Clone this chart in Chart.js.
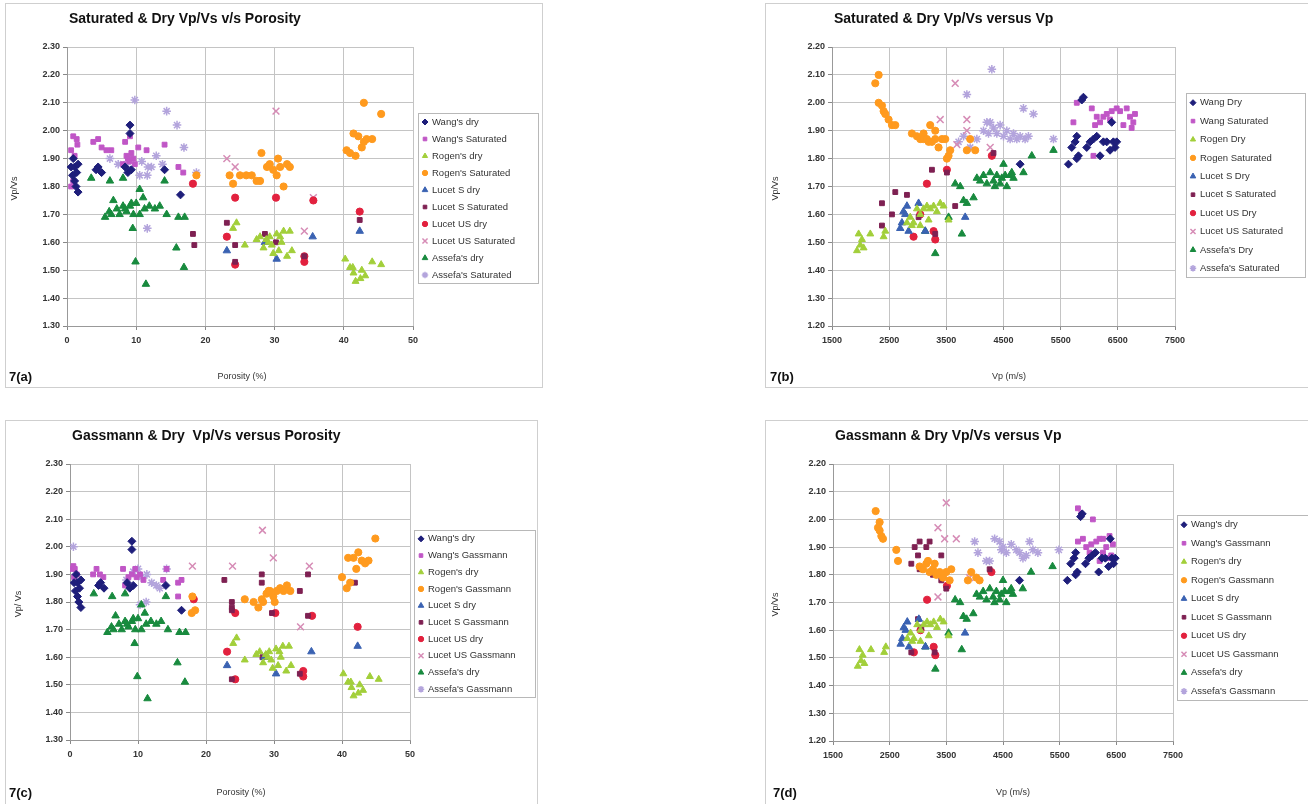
<!DOCTYPE html>
<html>
<head>
<meta charset="utf-8">
<script src="https://cdn.jsdelivr.net/npm/chart.js@4.4.1/dist/chart.umd.min.js"></script>
<style>
  body { margin: 0; background: #fff; width: 1308px; height: 804px; position: relative; overflow: hidden; }
  canvas { position: absolute; display: block; }
</style>
</head>
<body>
<canvas id="ca" width="538" height="385" style="left:5px;top:3px"></canvas>
<canvas id="cb" width="543" height="385" style="left:765px;top:3px"></canvas>
<canvas id="cc" width="533" height="384" style="left:5px;top:420px"></canvas>
<canvas id="cd" width="543" height="384" style="left:765px;top:420px"></canvas>
<script>
// ---- series names ----
const labelsA = ["Wang's dry", "Wang's Saturated", "Rogen's dry", "Rogen's Saturated", "Lucet S dry",
  "Lucet S Saturated", "Lucet US dry", "Lucet US Saturated", "Assefa's dry", "Assefa's Saturated"];
const labelsB = ["Wang Dry", "Wang Saturated", "Rogen Dry", "Rogen Saturated", "Lucet S Dry",
  "Lucet S Saturated", "Lucet US Dry", "Lucet US Saturated", "Assefa's Dry", "Assefa's Saturated"];
const labelsC = ["Wang's dry", "Wang's Gassmann", "Rogen's dry", "Rogen's Gassmann", "Lucet S dry",
  "Lucet S Gassmann", "Lucet US dry", "Lucet US Gassmann", "Assefa's dry", "Assefa's Gassmann"];

// ---- porosity (%) vs Vp/Vs : dry ----
const poroWangDry = [[1.1,1.87],[0.9,1.90],[1.6,1.88],[1.4,1.85],[1.3,1.80],[1.6,1.78],[1.1,1.82],[0.6,1.87],
  [0.8,1.84],[4.5,1.87],[5.0,1.85],[4.2,1.86],[8.4,1.87],[8.8,1.85],[9.3,1.86],[9.1,2.02],[9.1,1.99],[14.1,1.86],[16.4,1.77]];
const poroRogenDry = [[24.0,1.65],[24.5,1.67],[25.7,1.59],[27.4,1.61],[27.9,1.62],[28.4,1.58],[29.1,1.60],[29.3,1.62],
  [29.8,1.56],[30.3,1.63],[30.8,1.62],[31.0,1.60],[31.3,1.64],[31.8,1.55],[32.2,1.64],[32.5,1.57],[29.6,1.59],[30.6,1.57],
  [28.8,1.61],[40.2,1.54],[40.9,1.51],[41.4,1.49],[41.7,1.46],[42.4,1.47],[42.6,1.50],[43.1,1.48],[44.1,1.53],[45.4,1.52],[41.3,1.51]];
const poroLucetSDry = [[23.1,1.57],[28.6,1.60],[30.3,1.54],[35.5,1.62],[42.3,1.64]];
const poroLucetUSDry = [[18.2,1.81],[23.1,1.62],[24.3,1.76],[24.3,1.52],[30.2,1.76],[34.3,1.55],[34.3,1.53],[35.6,1.75],[42.3,1.71]];
const poroAssefaDry = [[5.5,1.69],[6.1,1.71],[6.7,1.75],[7.6,1.70],[8.1,1.73],[8.6,1.71],[9.1,1.73],[9.6,1.70],[10.0,1.74],
  [10.5,1.79],[11.0,1.76],[11.2,1.72],[11.9,1.73],[12.7,1.72],[13.4,1.73],[14.4,1.70],[16.1,1.69],[17.0,1.69],[10.5,1.70],
  [7.2,1.72],[8.4,1.72],[9.3,1.74],[6.4,1.70],[9.5,1.65],[9.9,1.53],[11.4,1.45],[15.8,1.58],[16.9,1.51],
  [3.5,1.83],[6.2,1.82],[8.1,1.83],[14.1,1.82]];

// ---- porosity vs Vp/Vs : saturated ----
const poroWangSat = [[0.9,1.98],[1.4,1.97],[0.6,1.93],[1.1,1.91],[0.6,1.80],[0.9,1.82],[1.5,1.95],[3.8,1.96],[4.5,1.97],
  [5.0,1.94],[5.7,1.93],[6.4,1.93],[8.4,1.96],[9.1,1.98],[8.6,1.91],[8.8,1.90],[9.3,1.92],[9.6,1.90],[9.8,1.88],[10.3,1.94],
  [8.1,1.88],[11.5,1.93],[9.0,1.89],[14.1,1.95],[16.1,1.87],[16.8,1.85]];
const poroRogenSat = [[18.7,1.84],[23.5,1.84],[24.0,1.81],[25.0,1.84],[25.9,1.84],[26.7,1.84],[27.4,1.82],[27.9,1.82],
  [28.1,1.92],[28.9,1.87],[29.3,1.88],[29.8,1.86],[30.3,1.84],[30.5,1.90],[30.8,1.87],[31.3,1.80],[31.8,1.88],[32.2,1.87],
  [40.4,1.93],[40.9,1.92],[41.4,1.99],[41.7,1.91],[42.1,1.98],[42.6,1.94],[42.9,1.96],[43.3,1.97],[44.1,1.97],[42.9,2.10],[45.4,2.06]];
const poroLucetSSat = [[18.2,1.63],[18.4,1.59],[23.1,1.67],[24.3,1.59],[24.3,1.53],[28.6,1.63],[30.2,1.60],[34.3,1.55],[42.3,1.68]];
const poroLucetUSSat = [[23.1,1.90],[24.3,1.87],[30.2,2.07],[34.3,1.64],[35.6,1.76]];
const poroAssefaSat = [[6.2,1.90],[7.4,1.88],[8.6,1.88],[9.2,1.90],[9.8,2.11],[10.5,1.84],[10.8,1.89],[11.6,1.84],[11.7,1.87],
  [12.2,1.87],[12.9,1.91],[13.8,1.88],[14.4,2.07],[15.9,2.02],[16.9,1.94],[18.7,1.85],[11.6,1.65]];

// ---- porosity vs Vp/Vs : Gassmann ----
const poroWangGas = [[0.2,1.92],[0.5,1.93],[0.7,1.92],[1.0,1.90],[0.6,1.89],[3.4,1.90],[3.9,1.92],[4.4,1.90],[4.9,1.89],
  [7.8,1.92],[8.1,1.86],[8.6,1.89],[9.1,1.90],[9.6,1.92],[9.8,1.89],[10.3,1.90],[10.8,1.88],[13.7,1.88],[14.2,1.92],
  [15.9,1.87],[16.4,1.88],[15.9,1.82]];
const poroRogenGas = [[17.9,1.76],[18.0,1.82],[18.4,1.77],[25.7,1.81],[27.0,1.80],[27.7,1.78],[28.2,1.81],[28.4,1.80],
  [28.9,1.83],[29.2,1.84],[29.4,1.84],[29.9,1.82],[30.1,1.80],[30.4,1.84],[30.9,1.85],[31.4,1.84],[31.9,1.86],[32.4,1.84],
  [40.0,1.89],[40.7,1.85],[41.2,1.87],[40.9,1.96],[41.7,1.96],[42.1,1.92],[42.4,1.98],[42.9,1.95],[43.4,1.94],[43.9,1.95],[44.9,2.03]];
const poroLucetSGas = [[22.7,1.88],[23.8,1.80],[23.8,1.78],[23.8,1.77],[23.8,1.52],[28.2,1.90],[28.2,1.87],[28.3,1.60],
  [29.7,1.76],[33.8,1.84],[33.8,1.54],[35.0,1.90],[35.0,1.75],[41.9,1.87]];
const poroLucetUSGas = [[18.0,1.93],[23.9,1.93],[28.3,2.06],[29.9,1.96],[33.9,1.71],[35.2,1.93]];
const poroAssefaGas = [[0.5,2.00],[8.3,1.88],[9.3,1.91],[10.0,1.92],[10.3,1.79],[10.5,1.89],[11.2,1.80],[11.3,1.90],
  [12.0,1.87],[12.7,1.86],[13.2,1.85],[14.2,1.92]];

// ---- Vp (m/s) vs Vp/Vs : dry ----
const vpWangDry = [[5636,1.78],[5694,1.84],[5753,1.86],[5782,1.88],[5811,1.81],[5782,1.80],[5869,2.01],[5898,2.02],
  [5956,1.84],[6015,1.86],[6073,1.87],[6131,1.88],[6189,1.81],[6247,1.86],[6306,1.86],[6393,1.93],[6422,1.86],
  [6451,1.84],[6480,1.86],[6364,1.83],[4791,1.78]];
const vpRogenDry = [[1937,1.47],[1995,1.49],[2024,1.51],[2053,1.48],[1966,1.53],[2170,1.53],[2403,1.52],[2432,1.54],
  [2811,1.57],[2869,1.59],[2927,1.57],[2986,1.62],[3044,1.60],[3102,1.62],[3160,1.63],[3218,1.62],[3277,1.63],
  [3335,1.61],[3393,1.64],[3452,1.63],[3539,1.58],[3044,1.56],[2898,1.56],[3190,1.58]];
const vpLucetSDry = [[2694,1.55],[2723,1.57],[2750,1.61],[2782,1.60],[2811,1.63],[2840,1.54],[3015,1.64],[3131,1.54],[3830,1.59]];
const vpLucetUSDry = [[2927,1.52],[3044,1.60],[3160,1.71],[3277,1.54],[3306,1.51],[3510,1.76],[4296,1.81]];
const vpAssefaDry = [[3131,1.54],[3306,1.46],[3539,1.59],[3655,1.71],[3743,1.70],[3772,1.53],[3801,1.65],[3859,1.64],
  [3976,1.66],[4034,1.73],[4092,1.72],[4150,1.74],[4209,1.71],[4267,1.75],[4325,1.72],[4350,1.70],[4383,1.74],[4441,1.71],
  [4470,1.73],[4500,1.78],[4529,1.74],[4558,1.70],[4616,1.74],[4645,1.75],[4675,1.73],[4849,1.75],[4995,1.81],[5374,1.83]];

// ---- Vp vs Vp/Vs : saturated ----
const vpWangSat = [[5723,1.93],[5782,2.00],[6044,1.98],[6102,1.92],[6131,1.95],[6189,1.93],[6247,1.95],[6306,1.96],
  [6364,1.94],[6393,1.97],[6480,1.98],[6539,1.97],[6597,1.92],[6655,1.98],[6713,1.95],[6742,1.91],[6771,1.93],[6800,1.96],[6073,1.81]];
const vpRogenSat = [[2257,2.07],[2316,2.10],[2316,2.00],[2374,1.99],[2403,1.97],[2432,1.96],[2490,1.94],[2549,1.92],
  [2607,1.92],[2898,1.89],[2986,1.88],[3044,1.87],[3102,1.89],[3102,1.87],[3160,1.87],[3190,1.86],[3218,1.92],[3248,1.86],
  [3306,1.87],[3306,1.90],[3364,1.84],[3423,1.87],[3481,1.87],[3510,1.80],[3539,1.81],[3568,1.83],[3859,1.83],[3917,1.87],[4005,1.83]];
const vpLucetSSat = [[2374,1.64],[2374,1.56],[2549,1.60],[2607,1.68],[2811,1.67],[3015,1.59],[3248,1.76],[3306,1.53],
  [3510,1.75],[3655,1.63],[4325,1.82]];
const vpLucetUSSat = [[3393,1.94],[3655,2.07],[3684,1.85],[3859,1.94],[3859,1.90],[4267,1.84]];
const vpAssefaSat = [[3714,1.86],[3801,1.88],[3859,2.03],[3917,1.84],[4034,1.87],[4150,1.90],[4209,1.93],[4238,1.89],
  [4267,1.93],[4296,2.12],[4325,1.91],[4383,1.89],[4441,1.92],[4500,1.88],[4558,1.90],[4616,1.87],[4675,1.89],[4733,1.87],
  [4791,1.88],[4849,1.98],[4878,1.87],[4936,1.88],[5024,1.96],[5374,1.87]];

// ---- Vp vs Vp/Vs : Gassmann ----
const vpWangGas = [[5822,2.04],[5881,2.02],[6086,2.00],[5822,1.92],[5910,1.93],[5969,1.90],[6028,1.88],[6057,1.91],
  [6146,1.92],[6205,1.93],[6205,1.85],[6264,1.93],[6264,1.88],[6322,1.90],[6352,1.86],[6380,1.94],[6410,1.87],[6439,1.91]];
const vpRogenGas = [[2253,2.03],[2294,1.97],[2323,1.99],[2323,1.96],[2353,1.94],[2382,1.93],[2617,1.89],[2647,1.85],
  [3029,1.83],[3088,1.82],[3147,1.84],[3176,1.85],[3205,1.81],[3264,1.82],[3294,1.84],[3323,1.80],[3382,1.81],[3440,1.79],
  [3499,1.81],[3558,1.78],[3587,1.82],[3881,1.78],[3940,1.81],[4028,1.79],[4087,1.78]];
const vpLucetSGas = [[2882,1.84],[2882,1.52],[2941,1.90],[3000,1.87],[3000,1.64],[3029,1.92],[3029,1.82],[3058,1.61],
  [3147,1.90],[3205,1.92],[3264,1.80],[3294,1.52],[3411,1.87],[3411,1.78],[3499,1.75],[4264,1.82]];
const vpLucetUSGas = [[3352,1.97],[3352,1.72],[3470,1.93],[3499,2.06],[3676,1.93],[3911,1.79]];
const vpAssefaGas = [[4000,1.92],[4058,1.88],[4205,1.85],[4264,1.85],[4352,1.93],[4440,1.92],[4470,1.89],[4499,1.90],
  [4558,1.88],[4646,1.91],[4734,1.89],[4793,1.88],[4852,1.86],[4910,1.87],[4969,1.92],[5028,1.89],[5116,1.88],[5486,1.89]];

// marker look per series slot (same order as the labels)
const markers = [
  { color: '#1e1e7a', style: 'rectRot', r: 4 },
  { color: '#c056c6', style: 'rect', r: 3.4 },
  { color: '#a2cf3a', style: 'triangle', r: 4 },
  { color: '#ff9a1e', style: 'circle', r: 3.6 },
  { color: '#3a62b2', style: 'triangle', r: 4.3 },
  { color: '#7e2052', style: 'rect', r: 3.4 },
  { color: '#e2213e', style: 'circle', r: 3.6 },
  { color: '#d68cb6', style: 'crossRot', r: 4.8 },
  { color: '#188a3e', style: 'triangle', r: 4.3 },
  { color: '#b3a4dc', style: 'star', r: 4.3 }
];

/* =========================
   decorations: frame, titles, legend
   ========================= */
const decor = {
  id: 'decor',
  afterDraw(chart, args, o) {
    const ctx = chart.ctx;
    const W = chart.width, H = chart.height;
    const ca = chart.chartArea;
    ctx.save();
    ctx.strokeStyle = '#cfcfcf';
    ctx.lineWidth = 1;
    ctx.strokeRect(0.5, 0.5, W - 1 - (o.openRight ? -2 : 0), H - 1 - (o.openBottom ? -2 : 0));

    ctx.fillStyle = '#111';
    ctx.textBaseline = 'middle';
    ctx.font = 'bold 14px "Liberation Sans", Arial, sans-serif';
    ctx.textAlign = 'left';
    ctx.fillText(o.title, ca.left + 2, 16);

    ctx.font = 'bold 13px "Liberation Sans", Arial, sans-serif';
    ctx.fillText(o.tag, o.tagX, o.bottomY);

    ctx.fillStyle = '#333';
    ctx.font = '9px "Liberation Sans", Arial, sans-serif';
    ctx.textAlign = 'center';
    ctx.fillText(o.xTitle, o.xTitleX, o.bottomY);
    ctx.save();
    ctx.translate(o.yTitleX, (ca.top + ca.bottom) / 2 + 2);
    ctx.rotate(-Math.PI / 2);
    ctx.fillText(o.yTitle, 0, 0);
    ctx.restore();

    // boxed legend on the right
    const lg = o.legend;
    ctx.strokeStyle = '#b8b8b8';
    ctx.strokeRect(lg.x + 0.5, lg.y + 0.5, lg.w, lg.h);
    const step = lg.h / chart.data.datasets.length;
    ctx.textAlign = 'left';
    ctx.font = '9.5px "Liberation Sans", Arial, sans-serif';
    chart.data.datasets.forEach((ds, i) => {
      const y = lg.y + step * (i + 0.5) + 0.5;
      ctx.fillStyle = ds.pointBackgroundColor;
      ctx.strokeStyle = ds.pointBorderColor;
      ctx.lineWidth = ds.pointBorderWidth;
      Chart.helpers.drawPoint(ctx, {
        pointStyle: ds.pointStyle, radius: ds.pointRadius * 0.75, rotation: 0, borderWidth: ds.pointBorderWidth
      }, lg.x + 7, y);
      ctx.fillStyle = '#333';
      ctx.fillText(ds.label, lg.x + 14, y);
    });
    ctx.restore();
  }
};

function makeDatasets(labels, series) {
  return series.map((pts, i) => {
    const m = markers[i];
    return {
      label: labels[i],
      data: pts.map(p => ({ x: p[0], y: p[1] })),
      pointStyle: m.style,
      pointRadius: m.r,
      pointBackgroundColor: m.color,
      pointBorderColor: m.color,
      pointBorderWidth: (m.style === 'crossRot' || m.style === 'star') ? 1.5 : 1,
      showLine: false
    };
  });
}

function makeChart(id, cfg) {
  const canvas = document.getElementById(id);
  const W = canvas.width, H = canvas.height;
  const xh = 30;
  const tickFont = { family: '"Liberation Sans", Arial, sans-serif', size: 9, weight: 'bold' };
  const grid = { color: '#c4c4c4', lineWidth: 1, tickLength: 4, tickColor: '#888' };
  return new Chart(canvas, {
    type: 'scatter',
    data: { datasets: makeDatasets(cfg.labels, cfg.series) },
    options: {
      responsive: false,
      animation: false,
      devicePixelRatio: 1,
      layout: {
        padding: { left: 0, top: cfg.area.top, right: W - cfg.area.right, bottom: H - cfg.area.bottom - xh }
      },
      plugins: {
        legend: { display: false },
        tooltip: { enabled: false },
        decor: cfg.decor
      },
      scales: {
        x: {
          type: 'linear', min: cfg.xMin, max: cfg.xMax,
          ticks: { stepSize: cfg.xStep, color: '#333', font: tickFont, padding: 5, maxRotation: 0,
            callback: v => String(v) },
          grid: grid,
          border: { color: '#999' },
          afterFit: s => { s.height = xh; }
        },
        y: {
          type: 'linear', min: cfg.yMin, max: cfg.yMax,
          ticks: { stepSize: 0.1, color: '#333', font: tickFont, padding: 3, callback: v => v.toFixed(2) },
          grid: grid,
          border: { color: '#999' },
          afterFit: s => { s.width = cfg.area.left; }
        }
      }
    },
    plugins: [decor]
  });
}

makeChart('ca', {
  labels: labelsA,
  series: [poroWangDry, poroWangSat, poroRogenDry, poroRogenSat, poroLucetSDry, poroLucetSSat,
    poroLucetUSDry, poroLucetUSSat, poroAssefaDry, poroAssefaSat],
  xMin: 0, xMax: 50, xStep: 10, yMin: 1.3, yMax: 2.3,
  area: { left: 62, right: 408, top: 44, bottom: 323 },
  decor: {
    title: 'Saturated & Dry Vp/Vs v/s Porosity', tag: '7(a)', tagX: 4, bottomY: 374,
    xTitle: 'Porosity (%)', xTitleX: 237, yTitle: 'Vp/Vs', yTitleX: 10,
    legend: { x: 413, y: 110, w: 120, h: 170 }
  }
});

makeChart('cb', {
  labels: labelsB,
  series: [vpWangDry, vpWangSat, vpRogenDry, vpRogenSat, vpLucetSDry, vpLucetSSat,
    vpLucetUSDry, vpLucetUSSat, vpAssefaDry, vpAssefaSat],
  xMin: 1500, xMax: 7500, xStep: 1000, yMin: 1.2, yMax: 2.2,
  area: { left: 67, right: 410, top: 44, bottom: 323 },
  decor: {
    title: 'Saturated & Dry Vp/Vs versus Vp', tag: '7(b)', tagX: 5, bottomY: 374,
    xTitle: 'Vp (m/s)', xTitleX: 244, yTitle: 'Vp/Vs', yTitleX: 11, openRight: true,
    legend: { x: 421, y: 90, w: 119, h: 184 }
  }
});

makeChart('cc', {
  labels: labelsC,
  series: [poroWangDry, poroWangGas, poroRogenDry, poroRogenGas, poroLucetSDry, poroLucetSGas,
    poroLucetUSDry, poroLucetUSGas, poroAssefaDry, poroAssefaGas],
  xMin: 0, xMax: 50, xStep: 10, yMin: 1.3, yMax: 2.3,
  area: { left: 65, right: 405, top: 44, bottom: 320 },
  decor: {
    title: 'Gassmann & Dry  Vp/Vs versus Porosity', tag: '7(c)', tagX: 4, bottomY: 373,
    xTitle: 'Porosity (%)', xTitleX: 236, yTitle: 'Vp/ Vs', yTitleX: 14, openBottom: true,
    legend: { x: 409, y: 110, w: 121, h: 167 }
  }
});

makeChart('cd', {
  labels: labelsC,
  series: [vpWangDry, vpWangGas, vpRogenDry, vpRogenGas, vpLucetSDry, vpLucetSGas,
    vpLucetUSDry, vpLucetUSGas, vpAssefaDry, vpAssefaGas],
  xMin: 1500, xMax: 7500, xStep: 1000, yMin: 1.2, yMax: 2.2,
  area: { left: 68, right: 408, top: 44, bottom: 321 },
  decor: {
    title: 'Gassmann & Dry Vp/Vs versus Vp', tag: '7(d)', tagX: 8, bottomY: 373,
    xTitle: 'Vp (m/s)', xTitleX: 248, yTitle: 'Vp/Vs', yTitleX: 11, openRight: true, openBottom: true,
    legend: { x: 412, y: 95, w: 131, h: 185 }
  }
});
</script>
</body>
</html>
